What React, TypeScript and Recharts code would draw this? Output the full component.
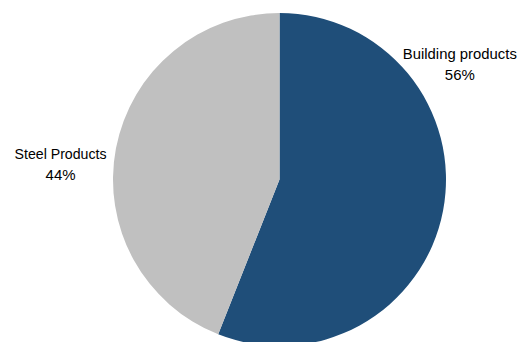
import React from "react";
import { PieChart, Pie, Cell } from "recharts";

const categories = ["Building products", "Steel Products"];
const shares = [56, 44];
const colors = ["#1F4E79", "#C0C0C0"];

const data = categories.map((name, i) => ({ name, value: shares[i] }));

// label anchor offsets relative to pie centre, in units of outer radius
const labelOffsets = [
  { dx: 1.083, dy: -0.724 },
  { dx: -1.315, dy: -0.125 },
];
const labelWidths = [
  [114, 30],
  [92, 30],
];

const renderLabel = (props: any) => {
  const { cx, cy, outerRadius, index, name, value } = props;
  const o = labelOffsets[index];
  const x = cx + o.dx * outerRadius;
  const y = cy + o.dy * outerRadius;
  const w = labelWidths[index];
  return (
    <text
      x={x}
      y={y}
      textAnchor="middle"
      fill="#000"
      fontSize={15}
      fontFamily="'Liberation Sans', Arial, sans-serif"
    >
      <tspan x={x} dy={0} textLength={w[0]} lengthAdjust="spacingAndGlyphs">{name}</tspan>
      <tspan x={x} dy={21} textLength={w[1]} lengthAdjust="spacingAndGlyphs">{value}%</tspan>
    </text>
  );
};

export default function App() {
  return (
    <div style={{ position: "absolute", left: 0, top: 0, width: 519, height: 342, background: "#fff" }}>
      <PieChart width={519} height={342} margin={{ top: 0, right: 0, bottom: 0, left: 0 }}>
        <Pie
          data={data}
          dataKey="value"
          nameKey="name"
          cx={279.5}
          cy={179.5}
          outerRadius={166.5}
          startAngle={90}
          endAngle={-270}
          stroke="none"
          label={renderLabel}
          labelLine={false}
          isAnimationActive={false}
        >
          {data.map((d, i) => (
            <Cell key={d.name} fill={colors[i]} />
          ))}
        </Pie>
      </PieChart>
    </div>
  );
}
